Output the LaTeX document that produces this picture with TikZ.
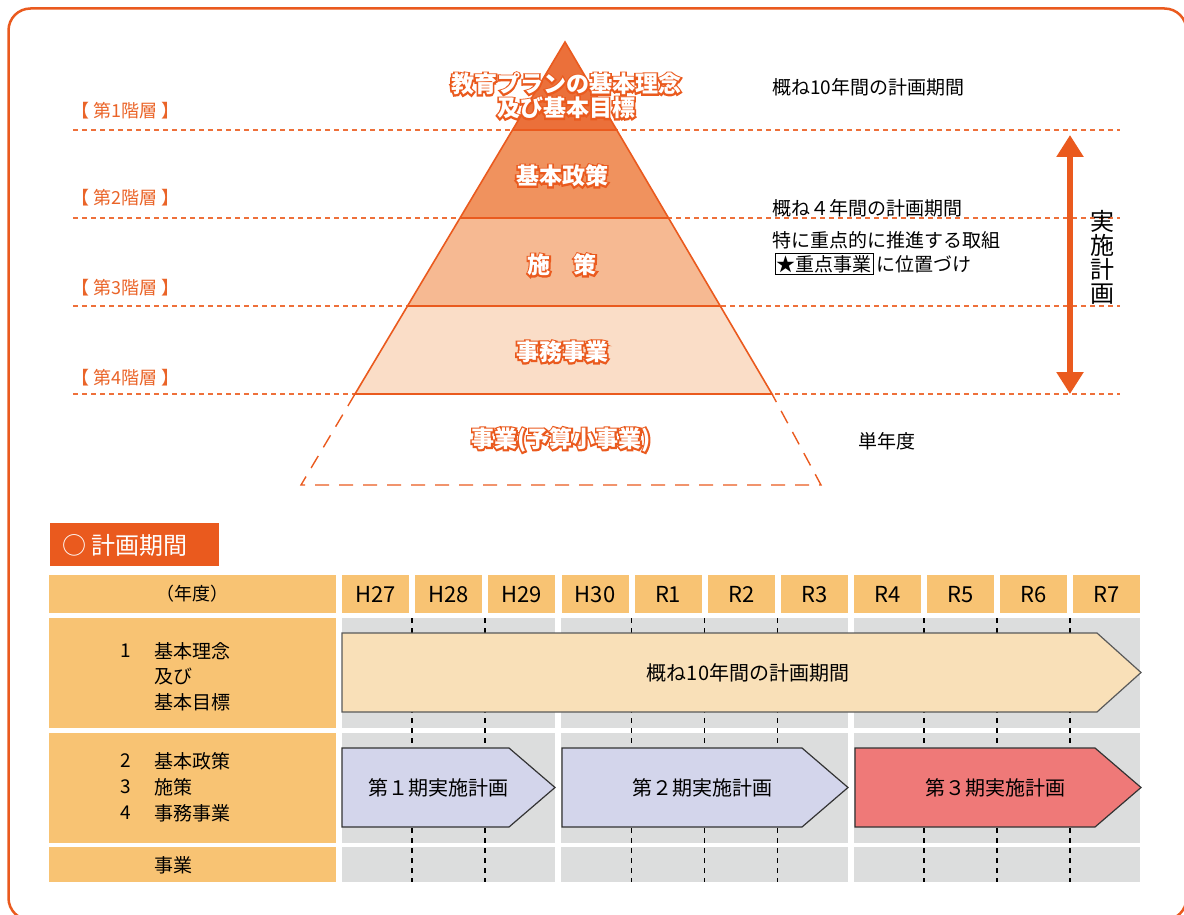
\documentclass[tikz,border=0pt]{standalone}
\usepackage{fontspec}
\setmainfont{Noto Sans CJK JP}
\newfontfamily\strokefont[FakeBold=14, BoldFeatures={FakeBold=14}]{Noto Sans CJK JP}
\usetikzlibrary{arrows.meta}
\definecolor{oc}{RGB}{234,90,30}
\definecolor{olab}{RGB}{234,100,40}
\definecolor{dashc}{RGB}{238,112,58}
\definecolor{Lone}{RGB}{235,112,58}
\definecolor{Ltwo}{RGB}{240,146,94}
\definecolor{Lthree}{RGB}{246,185,146}
\definecolor{Lfour}{RGB}{250,221,199}
\definecolor{hdr}{RGB}{248,195,115}
\definecolor{grc}{RGB}{220,221,221}
\definecolor{peach}{RGB}{249,224,184}
\definecolor{lav}{RGB}{211,213,235}
\definecolor{sal}{RGB}{239,121,120}
\newcommand\outl[1]{\rlap{\strokefont\bfseries\textcolor{oc}{#1}}\textcolor{white}{#1}}
\begin{document}
\begin{tikzpicture}[x=1pt,y=-1pt,
  hline/.style={dashc, line width=1.4pt, dash pattern=on 5pt off 4pt},
  lvl/.style={text=olab, font=\fontsize{18}{20}\selectfont, anchor=west, inner sep=0pt},
  ptxt/.style={font=\bfseries\fontsize{23}{24}\selectfont, align=center, inner sep=0pt},
  rtxt/.style={font=\fontsize{19}{21}\selectfont, anchor=west, inner sep=0pt},
  hcell/.style={fill=hdr, anchor=north west, inner sep=0pt, font=\fontsize{22}{24}\selectfont},
  ttxt/.style={font=\fontsize{19}{21}\selectfont, anchor=west, inner sep=0pt},
  arr/.style={draw=black!80, line width=1.2pt, line join=miter},
  atxt/.style={font=\fontsize{20}{22}\selectfont, inner sep=0pt},
  ydash/.style={black, line width=1.6pt, dash pattern=on 5pt off 5pt},
  trap/.style={oc, line width=1.4pt, dash pattern=on 14pt off 10pt}
]
\useasboundingbox (0,0) rectangle (1184,915);
% frame
\draw[oc, line width=2.5pt, rounded corners=22pt] (8.5,8.5) rectangle (1186.5,920);

% horizontal dashed level lines
\foreach \yy in {130,218,306,394} \draw[hline] (73,\yy) -- (1120,\yy);

% level labels
\node[lvl] (lv1) at (71,111) {【 第1階層 】};
\node[lvl] (lv2) at (71,198) {【 第2階層 】};
\node[lvl] (lv3) at (71,288) {【 第3階層 】};
\node[lvl] (lv4) at (71,378) {【 第4階層 】};

% pyramid
\fill[Lone] (565,42) -- (616.75,130) -- (512.5,130) -- cycle;
\fill[Ltwo] (512.5,130) -- (616.75,130) -- (668.5,218) -- (460,218) -- cycle;
\fill[Lthree] (460,218) -- (668.5,218) -- (720.25,306) -- (407.5,306) -- cycle;
\fill[Lfour] (407.5,306) -- (720.25,306) -- (772,394) -- (355,394) -- cycle;
\draw[oc, line width=1.6pt, line join=miter] (565,42) -- (772,394) -- (355,394) -- cycle;
\draw[oc, line width=1.6pt] (512.5,130) -- (616.75,130) (460,218) -- (668.5,218) (407.5,306) -- (720.25,306);
% dashed trapezoid
\draw[trap] (355,394) -- (301,485) -- (821,485) -- (772,394);

\node[ptxt] (p1) at (566,96) {\outl{教育プランの基本理念}\\\outl{及び基本目標}};
\node[ptxt] (p2) at (562,176) {\outl{基本政策}};
\node[ptxt] (p3) at (562,265) {\outl{施　策}};
\node[ptxt] (p4) at (562,352) {\outl{事務事業}};
\node[ptxt] (p5) at (561,440) {\outl{事業(予算小事業)}};

% right side texts
\node[rtxt] (r1) at (772,87) {概ね10年間の計画期間};
\node[rtxt] (r2) at (772,208) {概ね４年間の計画期間};
\node[rtxt] (r3) at (772,240) {特に重点的に推進する取組};
\node[rtxt, draw=black, line width=0.9pt, inner xsep=1.5pt, inner ysep=2pt] (r4) at (775,264) {★重点事業};
\node[rtxt, anchor=west] (r5) at ([xshift=2pt]r4.east) {に位置づけ};
\node[rtxt] (r6) at (858,441) {単年度};

% implementation arrow
\coordinate (atop) at (1070,135);
\coordinate (abot) at (1070,394);
\draw[oc, line width=6pt, {Triangle[width=26pt,length=22pt]}-{Triangle[width=26pt,length=22pt]}] (atop) -- (abot);
\node[font=\fontsize{24}{24}\selectfont, align=center, inner sep=0pt] (jsk) at (1102,257) {実\\施\\計\\画};

% section title
\node[fill=oc, anchor=north west, minimum width=169pt, minimum height=43pt, inner sep=0pt] (ttlbox) at (50,523) {};
\node[text=white, font=\fontsize{24}{26}\selectfont, anchor=west, inner sep=0pt] (ttl) at (62,545) {○\hspace{5pt}計画期間};

% table left column
\node[hcell, minimum width=287pt, minimum height=38pt] (hl) at (49,575) {};
\node[font=\fontsize{18}{20}\selectfont, inner sep=0pt] (nendo) at (192,594) {（年度）};
\node[hcell, minimum width=287pt, minimum height=110pt] (c1) at (49,618) {};
\node[hcell, minimum width=287pt, minimum height=110pt] (c2) at (49,733) {};
\node[hcell, minimum width=287pt, minimum height=35pt] (c3) at (49,847) {};

\node[ttxt] (n1) at (120,651) {1};
\node[ttxt] (t1a) at (154,651) {基本理念};
\node[ttxt] (t1b) at (154,676) {及び};
\node[ttxt] (t1c) at (154,702) {基本目標};
\node[ttxt] (n2) at (120,761) {2};
\node[ttxt] (t2) at (154,761) {基本政策};
\node[ttxt] (n3) at (120,787) {3};
\node[ttxt] (t3) at (154,787) {施策};
\node[ttxt] (n4) at (120,813) {4};
\node[ttxt] (t4) at (154,813) {事務事業};
\node[ttxt] (t5) at (154,865) {事業};

% year header
\foreach \lab [count=\i from 0] in {H27,H28,H29,H30,R1,R2,R3,R4,R5,R6,R7} {
  \pgfmathsetmacro\xa{342+73.1*\i}
  \node[hcell, minimum width=67pt, minimum height=38pt] (yr\i) at (\xa,575) {\lab};
}

% gray blocks
\foreach \xa/\xb in {342/555.2, 561.3/847.6, 854.4/1140} {
  \fill[grc] (\xa,618) rectangle (\xb,728);
  \fill[grc] (\xa,733) rectangle (\xb,843);
  \fill[grc] (\xa,847) rectangle (\xb,882);
}
% year dividers
\foreach \xx in {412,485.2,631.4,704.5,777.6,923.8,996.9,1070} \draw[ydash] (\xx,618) -- (\xx,882);

% period arrows
\draw[arr, fill=peach, draw=black!65] (342,633) -- (1097,633) -- (1141,672.5) -- (1097,712) -- (342,712) -- cycle;
\node[atxt] (a10) at (748,673) {概ね10年間の計画期間};
\draw[arr, fill=lav] (342,748) -- (509,748) -- (555,787.5) -- (509,827) -- (342,827) -- cycle;
\node[atxt] (ph1) at (438,788) {第１期実施計画};
\draw[arr, fill=lav] (562,748) -- (802,748) -- (848,787.5) -- (802,827) -- (562,827) -- cycle;
\node[atxt] (ph2) at (702,788) {第２期実施計画};
\draw[arr, fill=sal] (855,748) -- (1095,748) -- (1141,787.5) -- (1095,827) -- (855,827) -- cycle;
\node[atxt] (ph3) at (995,788) {第３期実施計画};
\end{tikzpicture}
\end{document}
